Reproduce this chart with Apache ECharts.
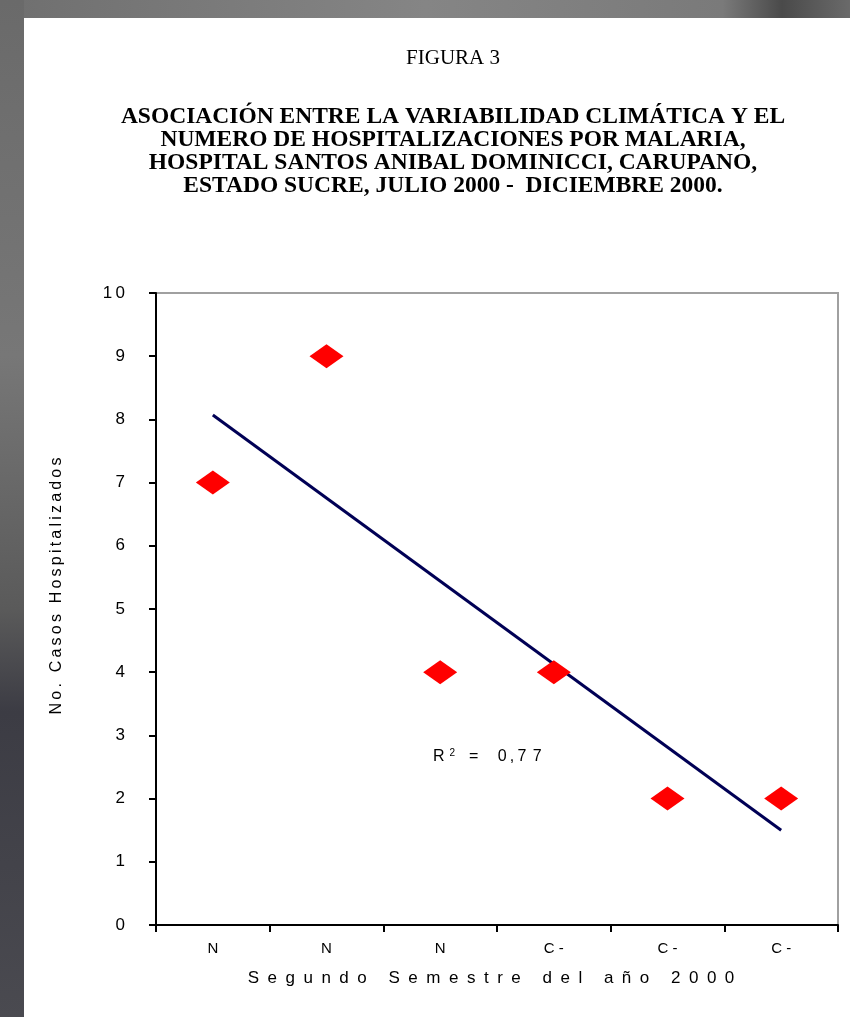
<!DOCTYPE html>
<html>
<head>
<meta charset="utf-8">
<script src="https://cdn.jsdelivr.net/npm/echarts@6/dist/echarts.min.js"></script>
<style>html,body{margin:0;padding:0;background:#777;}#c{width:850px;height:1017px;}</style>
</head>
<body>
<div id="c"></div>
<script>
const categories = ['N', 'N', 'N', 'C -', 'C -', 'C -'];
const casos = [7, 9, 4, 4, 2, 2];
const trendStart = [0, 8.07];
const trendEnd = [5, 1.5];
const yTicks = { min: 0, max: 10, interval: 1 };
const figLabel = 'FIGURA 3';
const titleLines = [
  'ASOCIACIÓN ENTRE LA VARIABILIDAD CLIMÁTICA Y EL',
  'NUMERO DE HOSPITALIZACIONES POR MALARIA,',
  'HOSPITAL SANTOS ANIBAL DOMINICCI, CARUPANO,',
  'ESTADO SUCRE, JULIO 2000 -  DICIEMBRE 2000.'
];
const r2Text = '0,77';
const xName = 'Segundo Semestre del año 2000';
const yName = 'No. Casos Hospitalizados';

// visual letter spacing helper (display only)
function spaced(s, sep) { return s.split('').join(sep); }

const chart = echarts.init(document.getElementById('c'), null, { renderer: 'canvas' });
const SANS = 'Liberation Sans, Arial, sans-serif';

chart.setOption({
  backgroundColor: '#777',
  animation: false,
  graphic: [
    { type: 'rect', z: -10, silent: true, shape: { x: 0, y: 0, width: 850, height: 18 },
      style: { fill: new echarts.graphic.LinearGradient(0, 0, 1, 0, [
        { offset: 0, color: '#6f6f6f' }, { offset: 0.5, color: '#858585' }, { offset: 0.85, color: '#7a7a7a' }, { offset: 0.92, color: '#4a4a4a' }, { offset: 1, color: '#6a6a6a' }]) } },
    { type: 'rect', z: -10, silent: true, shape: { x: 0, y: 0, width: 24, height: 1017 },
      style: { fill: new echarts.graphic.LinearGradient(0, 0, 0, 1, [
        { offset: 0, color: '#6a6a6a' }, { offset: 0.35, color: '#777' }, { offset: 0.6, color: '#5a5a5a' }, { offset: 0.7, color: '#3c3c44' }, { offset: 1, color: '#4a4a50' }]) } },
    { type: 'rect', z: -9, silent: true, shape: { x: 24, y: 18, width: 826, height: 999 }, style: { fill: '#fff' } },
    { type: 'text', position: [453, 48], style: { text: figLabel, font: '21px "Liberation Serif", "Times New Roman", serif', fill: '#000', textAlign: 'center' } },
    { type: 'text', position: [453, 105], style: { text: titleLines.join('\n'), font: 'bold 23.5px "Liberation Serif", "Times New Roman", serif', fill: '#000', textAlign: 'center', lineHeight: 23 } },
    { type: 'text', position: [433, 748], style: {
        text: '{a|R}{s|2}{a|=\u2002\u2002\u20090\u2009,\u20097\u2009\u20097}',
        rich: {
          a: { fontFamily: SANS, fontSize: 16, color: '#000' },
          s: { fontFamily: SANS, fontSize: 10, color: '#999', verticalAlign: 'top', padding: [0, 14, 8, 5] }
        } } }
  ],
  grid: { left: 156, right: 12, top: 293, bottom: 92, show: true, backgroundColor: '#fff', borderColor: '#a0a0a0', borderWidth: 2 },
  xAxis: {
    type: 'category', data: categories, boundaryGap: true,
    axisLine: { lineStyle: { color: '#000', width: 2 } },
    axisTick: { show: true, length: 7, lineStyle: { color: '#000', width: 2 } },
    axisLabel: { margin: 16, fontSize: 15, fontFamily: SANS, color: '#000' },
    name: spaced(xName, '\u2002'), nameLocation: 'middle', nameGap: 45,
    nameTextStyle: { fontFamily: SANS, fontSize: 17, color: '#000', padding: [0, 12, 0, 0] }
  },
  yAxis: {
    type: 'value', min: yTicks.min, max: yTicks.max, interval: yTicks.interval,
    axisLine: { show: true, lineStyle: { color: '#000', width: 2 } },
    axisTick: { show: true, length: 7, lineStyle: { color: '#000', width: 2 } },
    splitLine: { show: false },
    axisLabel: { margin: 31, fontSize: 17, fontFamily: SANS, color: '#000',
      formatter: v => spaced(String(v), '\u2009') },
    name: spaced(yName, '\u2009'), nameLocation: 'middle', nameGap: 91,
    nameTextStyle: { fontFamily: SANS, fontSize: 16, color: '#000', padding: [0, 0, 0, 46] }
  },
  series: [
    { type: 'line', data: [trendStart, trendEnd], symbol: 'none', z: 3,
      lineStyle: { color: '#000055', width: 3 } },
    { type: 'scatter', data: casos, symbol: 'diamond', symbolSize: [34, 24], z: 4,
      itemStyle: { color: '#ff0000', opacity: 1 } }
  ]
});
</script>
</body>
</html>
